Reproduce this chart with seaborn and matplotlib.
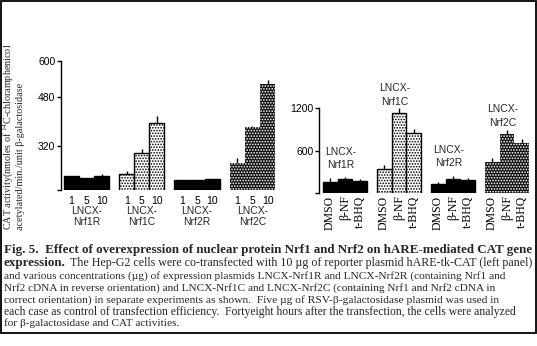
import numpy as np
import pandas as pd
import matplotlib
matplotlib.use("Agg")
import matplotlib.pyplot as plt
import seaborn as sns
from matplotlib.patches import Rectangle

# ---------------- data ----------------
constructs = ["Nrf1R", "Nrf1C", "Nrf2R", "Nrf2C"]
doses = ["1", "5", "10"]
treatments = ["DMSO", "\u03b2-NF", "t-BHQ"]

# left panel: CAT activity by dose (ug) of expression plasmid
left_nrf1r = [220, 215, 220]
left_nrf1c = [227, 295, 394]
left_nrf2r = [207, 207, 210]
left_nrf2c = [262, 383, 522]
left_err_nrf1r = [0, 0, 7]
left_err_nrf1c = [10, 14, 24]
left_err_nrf2r = [0, 0, 0]
left_err_nrf2c = [19, 2, 13]

# right panel: CAT activity by treatment
right_nrf1r = [155, 202, 169]
right_nrf1c = [343, 1130, 847]
right_nrf2r = [131, 202, 188]
right_nrf2c = [438, 838, 706]
right_err_nrf1r = [57, 24, 29]
right_err_nrf1c = [57, 79, 61]
right_err_nrf2r = [29, 42, 24]
right_err_nrf2c = [65, 56, 61]

left_yticks = [320, 480, 600]
right_yticks = [600, 1200]

ylabel1 = r"CAT activity(nmoles of $^{14}$C-chloramphenicol"
ylabel2 = "acetylated/min./unit \u03b2-galactosidase"

caption_bold1 = "Fig. 5.  Effect of overexpression of nuclear protein Nrf1 and Nrf2 on hARE-mediated CAT gene"
caption_bold2 = "expression."
caption_lines = [
    "The Hep-G2 cells were co-transfected with 10 \u00b5g of reporter plasmid hARE-tk-CAT (left panel)",
    "and various concentrations (\u00b5g) of expression plasmids LNCX-Nrf1R and LNCX-Nrf2R (containing Nrf1 and",
    "Nrf2 cDNA in reverse orientation) and LNCX-Nrf1C and LNCX-Nrf2C (containing Nrf1 and Nrf2 cDNA in",
    "correct orientation) in separate experiments as shown.  Five \u00b5g of RSV-\u03b2-galactosidase plasmid was used in",
    "each case as control of transfection efficiency.  Fortyeight hours after the transfection, the cells were analyzed",
    "for \u03b2-galactosidase and CAT activities.",
]

left_vals = [left_nrf1r, left_nrf1c, left_nrf2r, left_nrf2c]
left_errs = [left_err_nrf1r, left_err_nrf1c, left_err_nrf2r, left_err_nrf2c]
right_vals = [right_nrf1r, right_nrf1c, right_nrf2r, right_nrf2c]
right_errs = [right_err_nrf1r, right_err_nrf1c, right_err_nrf2r, right_err_nrf2c]

dfL = pd.DataFrame([(c, d, v, e) for c, vs, es in zip(constructs, left_vals, left_errs)
                    for d, v, e in zip(doses, vs, es)],
                   columns=["construct", "dose", "value", "err"])
dfR = pd.DataFrame([(c, t, v, e) for c, vs, es in zip(constructs, right_vals, right_errs)
                    for t, v, e in zip(treatments, vs, es)],
                   columns=["construct", "treatment", "value", "err"])

# ---------------- style ----------------
sns.set_theme(style="white")
plt.rcParams["font.family"] = ["Liberation Sans", "DejaVu Sans"]
plt.rcParams["mathtext.fontset"] = "custom"
plt.rcParams["mathtext.rm"] = "Liberation Serif"
plt.rcParams["mathtext.it"] = "Liberation Serif:italic"
plt.rcParams["hatch.linewidth"] = 0.8
SERIF = ["Liberation Serif", "DejaVu Serif"]
SANS_SIZE = 7.5

W, H = 537, 346
fig = plt.figure(figsize=(W / 100, H / 100), dpi=100)
fig.patch.set_facecolor("white")


def ax_at(l, t, r, b):
    return fig.add_axes([l / W, 1 - b / H, (r - l) / W, (b - t) / H])


axL = ax_at(61, 60.7, 279, 190)
axR = ax_at(319.3, 108.3, 534, 193.3)


def style_bar(bar, gi):
    if gi in (0, 2):  # reverse orientation: solid black
        bar.set_facecolor("black")
        bar.set_edgecolor("black")
        bar.set_linewidth(1)
    elif gi == 1:  # Nrf1C: light stipple
        bar.set_facecolor("white")
        bar.set_edgecolor("black")
        bar.set_hatch("......")
        bar.set_linewidth(1)
    else:  # Nrf2C: dark with white dots
        bar.set_facecolor("#111111")
        bar.set_hatch("......")
        if hasattr(bar, "set_hatchcolor"):
            bar.set_hatchcolor("white")
            bar.set_edgecolor("black")
            bar.set_linewidth(1)
        else:
            bar.set_edgecolor("white")
            bar.set_linewidth(0)


def draw_panel(ax, df, xcol, order_levels, width):
    sns.barplot(data=df, x="construct", y="value", hue=xcol, order=constructs,
                hue_order=order_levels, width=width, errorbar=None, ax=ax,
                legend=False, gap=0)
    bar_containers = list(ax.containers)
    centers, labels = [], []
    for li, cont in enumerate(bar_containers):
        xs, tops, errs = [], [], []
        for gi, bar in enumerate(cont.patches):
            style_bar(bar, gi)
            x = bar.get_x() + bar.get_width() / 2
            xs.append(x)
            tops.append(bar.get_height())
            sub = df[(df["construct"] == constructs[gi]) & (df[xcol] == order_levels[li])]
            errs.append(float(sub["err"].iloc[0]))
            centers.append(x)
            labels.append(order_levels[li])
        errs = np.array(errs)
        mask = errs > 0
        if mask.any():
            ax.errorbar(np.array(xs)[mask], np.array(tops)[mask],
                        yerr=[np.zeros(mask.sum()), errs[mask]], fmt="none",
                        ecolor="black", elinewidth=1, capsize=0, clip_on=False, zorder=3)
    return centers, labels


# ---------- left panel ----------
cL, lL = draw_panel(axL, dfL, "dose", doses, 0.82)
axL.set_ylim(174, 600)
axL.set_xlim(-0.46, 3.48)
axL.set_yticks([174] + left_yticks)
axL.set_yticklabels([""] + [str(v) for v in left_yticks])
axL.set_xticks(cL)
axL.set_xticklabels(lL)
axL.tick_params(axis="y", left=True, length=3, width=1, pad=1, labelsize=SANS_SIZE,
                colors="black", direction="out")
axL.tick_params(axis="x", bottom=False, length=0, pad=4, labelsize=SANS_SIZE,
                colors="black")
for gi, g in enumerate(constructs):
    axL.annotate(f"LNCX-\n{g}", xy=(gi, 0), xycoords=axL.get_xaxis_transform(),
                 xytext=(0, -11.5), textcoords="offset points", ha="center", va="top",
                 fontsize=SANS_SIZE, linespacing=1.15)

# ---------- right panel ----------
cR, lR = draw_panel(axR, dfR, "treatment", treatments, 0.83)
axR.set_ylim(0, 1200)
axR.set_xlim(-0.476, 3.5)
axR.set_yticks([0] + right_yticks)
axR.set_yticklabels([""] + [str(v) for v in right_yticks])
axR.set_xticks(cR)
axR.set_xticklabels(lR, rotation=90, family=SERIF, fontsize=8.5)
axR.tick_params(axis="y", left=True, length=3, width=1, pad=1, labelsize=SANS_SIZE,
                colors="black", direction="out")
axR.tick_params(axis="x", bottom=False, length=0, pad=1.5, colors="black")
label_y = [491, 1388, 520, 1092]
for gi, g in enumerate(constructs):
    axR.text(gi - 0.08, label_y[gi], f"LNCX-\n{g}", ha="center", va="center",
             fontsize=SANS_SIZE, linespacing=1.4, clip_on=False)

for ax in (axL, axR):
    ax.set_xlabel("")
    ax.set_ylabel("")
    for s in ("top", "right", "bottom"):
        ax.spines[s].set_visible(False)
    ax.spines["left"].set_color("black")
    ax.spines["left"].set_linewidth(1)
    ax.patch.set_alpha(0)

# ---------- y-axis label (two rotated lines) ----------
t_y1 = fig.text(8 / W, 1 - 230 / H, ylabel1, rotation=90, ha="center", va="bottom",
                family=SERIF, fontsize=7.3)
t_y2 = fig.text(20.5 / W, 1 - 230 / H, ylabel2, rotation=90, ha="center", va="bottom",
                family=SERIF, fontsize=7.3)

# ---------- caption ----------
cap_y = [250, 263, 276, 288, 300, 312, 323]
t_b1 = fig.text(4 / W, 1 - cap_y[0] / H, caption_bold1, ha="left", va="center",
                family=SERIF, weight="bold", fontsize=8.5)
t_b2 = fig.text(4 / W, 1 - cap_y[1] / H, caption_bold2, ha="left", va="center",
                family=SERIF, weight="bold", fontsize=8.5)
cap_x = [70, 4, 4, 4, 4, 4]
cap_w = [462, 499, 487, 494, 510, 175]
cap_texts = []
for i, line in enumerate(caption_lines):
    cap_texts.append(fig.text(cap_x[i] / W, 1 - cap_y[i + 1] / H, line, ha="left",
                              va="center", family=SERIF, fontsize=7.5))

# frame around the whole figure
fig.add_artist(Rectangle((0.5 / W, 1 - 332.5 / H), 535 / W, 332 / H,
                         transform=fig.transFigure, fill=False, lw=1.3, ec="black"))

# fit caption text sizes to the reference extents
fig.canvas.draw()
rend = fig.canvas.get_renderer()


def fit(t, target):
    cur = t.get_window_extent(renderer=rend).width
    t.set_fontsize(t.get_fontsize() * target / cur)


fit(t_b1, 524)
t_b2.set_fontsize(t_b1.get_fontsize())
for t, w in zip(cap_texts, cap_w):
    fit(t, w)

fig.savefig("out.png", dpi=100, facecolor="white")
